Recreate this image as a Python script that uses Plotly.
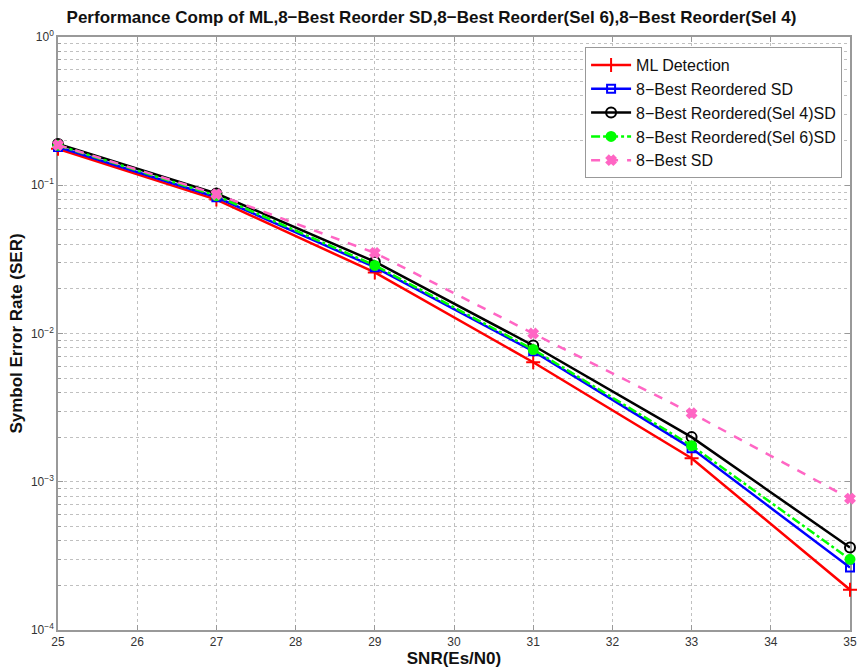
import plotly.graph_objects as go

snr = [25, 27, 29, 31, 33, 35]
ml = [0.176, 0.080, 0.0258, 0.0064, 0.00144, 0.000187]
reord = [0.181, 0.083, 0.0280, 0.0076, 0.00168, 0.000264]
sel4 = [0.190, 0.088, 0.0305, 0.0083, 0.00200, 0.000360]
sel6 = [0.186, 0.085, 0.0288, 0.0078, 0.00175, 0.000300]
best = [0.187, 0.087, 0.0350, 0.0100, 0.00290, 0.000770]

names = ["ML Detection", "8\u2212Best Reordered SD", "8\u2212Best Reordered(Sel 4)SD",
         "8\u2212Best Reordered(Sel 6)SD", "8\u2212Best SD"]
series = [ml, reord, sel4, sel6, best]
colors = ["#ff0000", "#0000ff", "#000000", "#00ff00", "#ff66c4"]
dashes = ["solid", "solid", "solid", "dashdot", "dash"]
symbols = ["cross-thin-open", "square-open", "circle-open", "circle", "x"]
msizes = [10, 8, 10, 9, 8]

major_vals = [1e-4, 1e-3, 1e-2, 1e-1, 1.0]
major_text = ["10<sup>\u22124</sup>", "10<sup>\u22123</sup>", "10<sup>\u22122</sup>",
              "10<sup>\u22121</sup>", "10<sup>0</sup>"]
minor_vals = [m * 10.0 ** k for k in range(-4, 0) for m in range(2, 10)]

fig = go.Figure()
for n, s, c, d, sym, ms in zip(names, series, colors, dashes, symbols, msizes):
    fig.add_trace(go.Scatter(
        x=snr, y=s, name=n, mode="lines+markers", cliponaxis=False,
        line=dict(color=c, width=2.5, dash=d),
        marker=dict(symbol=sym, size=ms, color=c, line=dict(color=c, width=2)),
    ))
# invisible helper trace to activate the minor-grid axis
fig.add_trace(go.Scatter(x=[snr[0]], y=[major_vals[1]], yaxis="y2", mode="markers",
                         marker=dict(opacity=0), showlegend=False, hoverinfo="skip"))

grid = "#c0c0c0"
fig.update_layout(
    width=863, height=669,
    margin=dict(l=58, r=6, t=37, b=37),
    paper_bgcolor="white", plot_bgcolor="white",
    font=dict(family="Arial, Liberation Sans, sans-serif", color="#222"),
    title=dict(text="<b>Performance Comp of ML,8\u2212Best Reorder SD,8\u2212Best Reorder(Sel 6),8\u2212Best Reorder(Sel 4)</b>",
               x=0.5, xanchor="center", y=0.975, yanchor="middle",
               font=dict(size=17, color="#111")),
    xaxis=dict(range=[25, 35], dtick=1, tick0=25, showgrid=True, gridcolor=grid,
               griddash="dot", gridwidth=1, showline=True, linecolor="#999", linewidth=1.5,
               mirror="ticks", ticks="inside", ticklen=5, tickcolor="#999",
               tickfont=dict(size=12, color="#333"), zeroline=False,
               title=dict(text="<b>SNR(Es/N0)</b>", font=dict(size=17, color="#111"), standoff=2)),
    yaxis=dict(type="log", range=[-4, 0], tickvals=major_vals, ticktext=major_text, showgrid=True,
               gridcolor=grid, griddash="dot", gridwidth=1, showline=True,
               linecolor="#999", linewidth=1.5, mirror="ticks", ticks="inside", ticklen=5,
               tickcolor="#999", tickfont=dict(size=12, color="#333"), zeroline=False,
               layer="below traces",
               title=dict(text="<b>Symbol Error Rate (SER)</b>", font=dict(size=17, color="#111"), standoff=4)),
    yaxis2=dict(type="log", range=[-4, 0], overlaying="y", side="left", tickvals=minor_vals,
                showticklabels=False, showgrid=True, gridcolor=grid, griddash="dot", gridwidth=1,
                ticks="inside", ticklen=3, tickcolor="#999", zeroline=False, showline=False,
                layer="below traces"),
    legend=dict(x=0.99, y=0.983, xanchor="right", yanchor="top", bgcolor="white",
                bordercolor="#999", borderwidth=1, font=dict(size=16, color="#111"),
                tracegroupgap=0, itemwidth=40),
    showlegend=True,
)

fig.write_html("out.html")
